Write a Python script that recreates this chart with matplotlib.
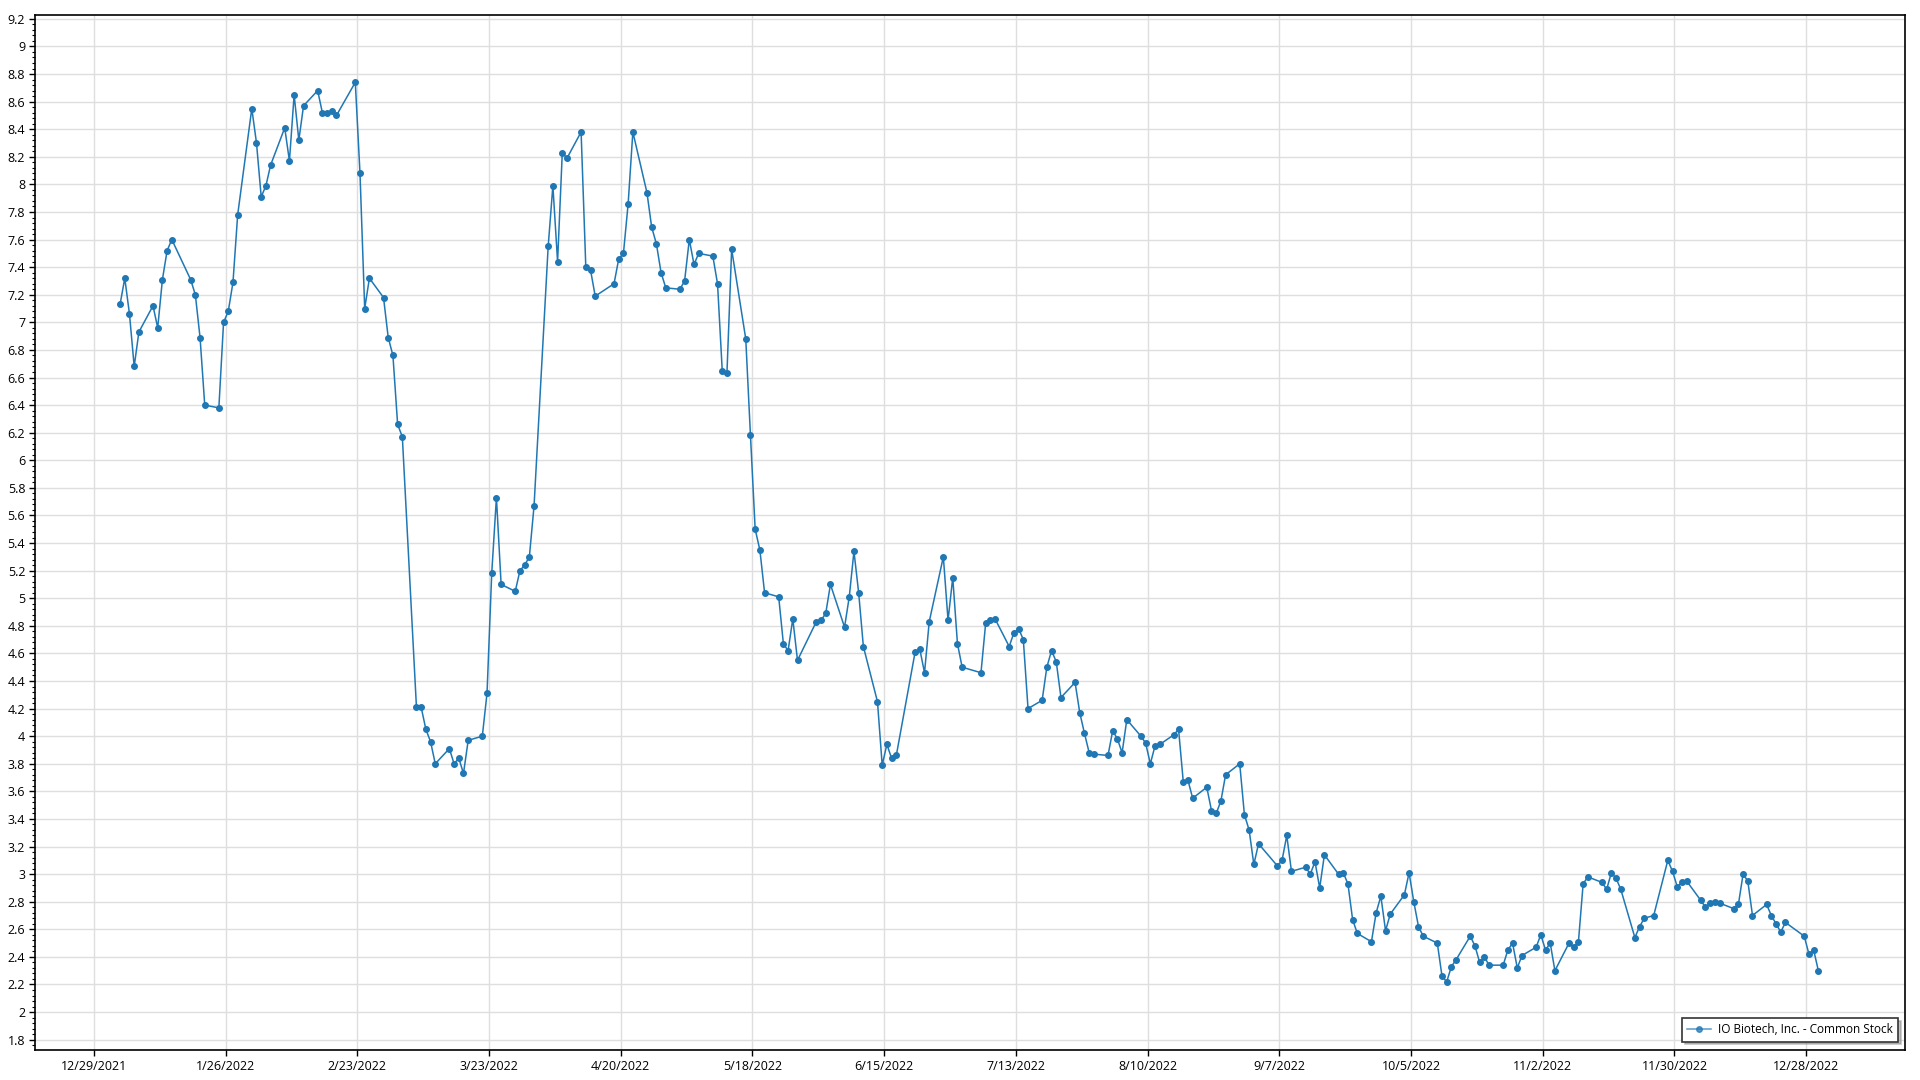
import matplotlib.pyplot as plt
from matplotlib.ticker import MultipleLocator
import pandas as pd

# Daily closing prices, 2022 (one list per month, trading days in order)
jan = [7.13, 7.32, 7.06, 6.68, 6.93, 7.12, 6.96, 7.31, 7.52, 7.60,
       7.31, 7.20, 6.89, 6.40, 6.38, 7.00, 7.08, 7.29, 7.78, 8.55]
feb = [8.30, 7.91, 7.99, 8.14, 8.41, 8.17, 8.65, 8.32, 8.57, 8.68,
       8.52, 8.52, 8.53, 8.50, 8.74, 8.08, 7.10, 7.32, 7.18]
mar = [6.89, 6.76, 6.26, 6.17, 4.21, 4.21, 4.05, 3.96, 3.80, 3.91,
       3.80, 3.84, 3.73, 3.97, 4.00, 4.31, 5.18, 5.73, 5.10, 5.05,
       5.20, 5.24, 5.30]
apr = [5.67, 7.55, 7.99, 7.44, 8.23, 8.19, 8.38, 7.40, 7.38, 7.19,
       7.28, 7.46, 7.50, 7.86, 8.38, 7.94, 7.69, 7.57, 7.36, 7.25]
may = [7.24, 7.30, 7.60, 7.42, 7.50, 7.48, 7.28, 6.65, 6.63, 7.53,
       6.88, 6.18, 5.50, 5.35, 5.04, 5.01, 4.67, 4.62, 4.85, 4.55, 4.83]
jun = [4.84, 4.89, 5.10, 4.79, 5.01, 5.34, 5.04, 4.65, 4.25, 3.79,
       3.94, 3.84, 3.86, 4.61, 4.63, 4.46, 4.83, 5.30, 4.84, 5.15, 4.67]
jul = [4.50, 4.46, 4.82, 4.84, 4.85, 4.65, 4.75, 4.78, 4.70, 4.20,
       4.26, 4.50, 4.62, 4.54, 4.28, 4.39, 4.17, 4.02, 3.88, 3.87]
aug = [3.86, 4.04, 3.98, 3.88, 4.12, 4.00, 3.95, 3.80, 3.93, 3.94,
       4.01, 4.05, 3.67, 3.68, 3.55, 3.63, 3.46, 3.44, 3.53, 3.72,
       3.80, 3.43, 3.32]
sep = [3.07, 3.22, 3.06, 3.10, 3.28, 3.02, 3.05, 3.00, 3.09, 2.90,
       3.14, 3.00, 3.01, 2.93, 2.67, 2.57, 2.51, 2.72, 2.84, 2.59, 2.71]
oct_ = [2.85, 3.01, 2.80, 2.62, 2.55, 2.50, 2.26, 2.22, 2.33, 2.38,
        2.55, 2.48, 2.36, 2.40, 2.34, 2.34, 2.45, 2.50, 2.32, 2.41, 2.47]
nov = [2.56, 2.45, 2.50, 2.30, 2.50, 2.47, 2.51, 2.93, 2.98, 2.94,
       2.89, 3.01, 2.97, 2.89, 2.54, 2.62, 2.68, 2.70, 3.10, 3.02, 2.91]
dec = [2.94, 2.95, 2.81, 2.76, 2.79, 2.80, 2.79, 2.75, 2.78, 3.00,
       2.95, 2.70, 2.78, 2.70, 2.64, 2.58, 2.65, 2.55, 2.42, 2.45, 2.30]

market_holidays = ['2022-01-17', '2022-02-21', '2022-04-15', '2022-05-30',
                   '2022-06-20', '2022-07-04', '2022-09-05', '2022-11-24',
                   '2022-12-26']
series_name = 'IO Biotech, Inc. - Common Stock'

prices = jan + feb + mar + apr + may + jun + jul + aug + sep + oct_ + nov + dec
# trading days; the source plots each close a little after midnight
dates = pd.bdate_range('2022-01-03', '2022-12-30', freq='C', holidays=market_holidays)
dates = dates + pd.Timedelta(hours=14)

fonts = ['Open Sans', 'DejaVu Sans']
plt.rcParams['font.family'] = fonts

fig = plt.figure(figsize=(19.2, 10.8), dpi=100)
ax = fig.add_axes([35 / 1920, 30 / 1080, 1870 / 1920, 1035 / 1080])

color = '#1f77b4'
ax.plot(dates, prices, color=color, lw=1.1, marker='o', ms=4, label=series_name)

# x ticks every 28 days, labels like 12/29/2021
xticks = pd.date_range('2021-12-29', periods=14, freq='28D')
ax.set_xticks(xticks)
ax.set_xticklabels([f'{d.month}/{d.day}/{d.year}' for d in xticks], fontsize=9)
ax.set_xlim(pd.Timestamp('2021-12-16 12:00'), pd.Timestamp('2023-01-18'))

ax.set_ylim(1.725, 9.228)
yt = [round(v * 0.2, 1) for v in range(9, 47)]
ax.set_yticks(yt)
ax.set_yticklabels([f'{v:g}' for v in yt], fontsize=9)
ax.yaxis.set_minor_locator(MultipleLocator(0.04))

ax.tick_params(axis='both', which='major', length=4, width=1, color='black', pad=3)
ax.tick_params(axis='y', which='minor', length=2, width=0.8)
ax.grid(True, which='major', color='#dedede', lw=1)
ax.set_axisbelow(True)
for s in ax.spines.values():
    s.set_color('black')
    s.set_linewidth(1.2)

leg = ax.legend(loc='lower right', fancybox=False, shadow={'color': '#888888'},
                framealpha=1, edgecolor='#333333', borderpad=0.45,
                borderaxespad=0, handlelength=2.0, handletextpad=0.6,
                bbox_to_anchor=(0.9963, 0.008), prop={'family': fonts, 'size': 8.5})
leg.get_frame().set_linewidth(1.2)
leg.get_lines()[0].set_alpha(0.75)

fig.savefig('out.png', dpi=100)
